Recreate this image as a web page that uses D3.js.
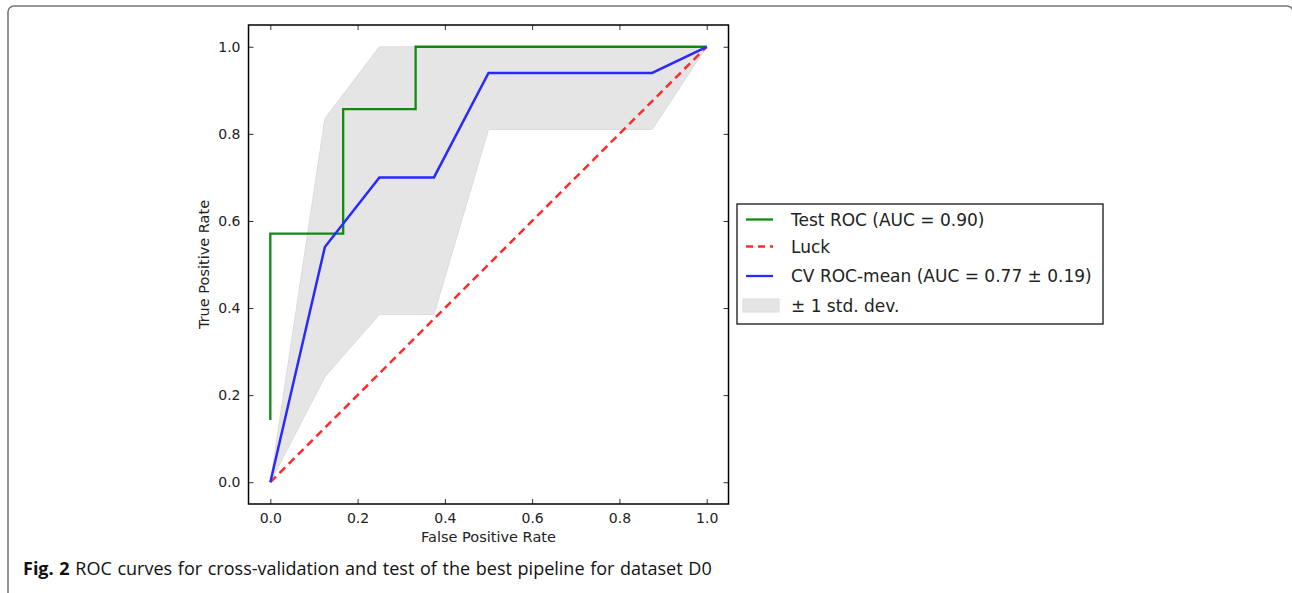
<!DOCTYPE html>
<html>
<head>
<meta charset="utf-8">
<script src="https://cdn.jsdelivr.net/npm/d3@7"></script>
<style>
  body { margin: 0; background: #fff; }
  svg { display: block; }
</style>
</head>
<body>
<svg width="1292" height="593"></svg>
<script>
'use strict';

// values
const testFpr  = [0, 0, 0.167, 0.167, 0.333, 0.333, 1.0];
const testTpr  = [0.143, 0.571, 0.571, 0.857, 0.857, 1.0, 1.0];
const luckFpr  = [0, 1];
const luckTpr  = [0, 1];
const meanFpr  = [0, 0.125, 0.25, 0.375, 0.5, 0.875, 1.0];
const meanTpr  = [0, 0.54, 0.70, 0.70, 0.94, 0.94, 1.0];
const tprUpper = [0, 0.835, 1.0, 1.0, 1.0, 1.0, 1.0];
const tprLower = [0, 0.242, 0.385, 0.385, 0.81, 0.81, 1.0];
const tickValues = [0, 0.2, 0.4, 0.6, 0.8, 1.0];
const legendLabels = ["Test ROC (AUC = 0.90)", "Luck", "CV ROC-mean (AUC = 0.77 \u00b1 0.19)", "\u00b1 1 std. dev."];
const xLabel = "False Positive Rate";
const yLabel = "True Positive Rate";
const captionBold = "Fig. 2";
const captionText = " ROC curves for cross-validation and test of the best pipeline for dataset D0";

const svg = d3.select("svg");
const margin = {left: 248.5, top: 25, right: 563.5, bottom: 89};
const width = 1292 - margin.left - margin.right;   // ~480
const height = 593 - margin.top - margin.bottom;   // ~479
const font = "'DejaVu Sans', sans-serif";

// outer panel border (only top + left are inside the picture)
svg.append("rect")
    .attr("x", 8).attr("y", 6)
    .attr("width", 1285).attr("height", 620)
    .attr("rx", 6)
    .attr("fill", "none")
    .attr("stroke", "#777")
    .attr("stroke-width", 1.6);

const x = d3.scaleLinear().domain([-0.05, 1.05]).range([0, width]);
const y = d3.scaleLinear().domain([-0.05, 1.05]).range([height, 0]);

const g = svg.append("g")
    .attr("transform", "translate(" + margin.left + "," + margin.top + ")");

const zip = (xs, ys) => xs.map((v, i) => [v, ys[i]]);

// std band
const area = d3.area()
    .x(d => x(d.fpr))
    .y0(d => y(d.lo))
    .y1(d => y(d.hi));
g.append("path")
    .datum(meanFpr.map((v, i) => ({fpr: v, lo: tprLower[i], hi: tprUpper[i]})))
    .attr("fill", "#e5e5e5")
    .attr("stroke", "#dcdcdc")
    .attr("stroke-width", 1)
    .attr("d", area);

const line = d3.line().x(d => x(d[0])).y(d => y(d[1]));

g.append("path")
    .datum(zip(testFpr, testTpr))
    .attr("fill", "none")
    .attr("stroke", "#118a11")
    .attr("stroke-width", 2.3)
    .attr("d", line);

g.append("path")
    .datum(zip(luckFpr, luckTpr))
    .attr("fill", "none")
    .attr("stroke", "#ff2a2a")
    .attr("stroke-width", 2.5)
    .attr("stroke-dasharray", "8,5")
    .attr("d", line);

g.append("path")
    .datum(zip(meanFpr, meanTpr))
    .attr("fill", "none")
    .attr("stroke", "#2a2aff")
    .attr("stroke-width", 2.5)
    .attr("d", line);

// axes - ticks point inward on all four sides
const fmt = d3.format(".1f");
function styleAxis(sel) {
  sel.select(".domain").remove();
  sel.selectAll(".tick line").attr("stroke", "#333").attr("stroke-width", 1);
  sel.selectAll(".tick text")
      .attr("font-family", font)
      .attr("font-size", 14)
      .attr("fill", "#222");
}

g.append("g")
    .attr("transform", "translate(0," + height + ")")
    .call(d3.axisBottom(x).tickValues(tickValues).tickFormat(fmt).tickSizeInner(-5).tickSizeOuter(0).tickPadding(9))
    .call(styleAxis);
g.append("g")
    .call(d3.axisLeft(y).tickValues(tickValues).tickFormat(fmt).tickSizeInner(-5).tickSizeOuter(0).tickPadding(8))
    .call(styleAxis);
g.append("g")
    .call(d3.axisTop(x).tickValues(tickValues).tickFormat("").tickSizeInner(-5).tickSizeOuter(0))
    .call(styleAxis);
g.append("g")
    .attr("transform", "translate(" + width + ",0)")
    .call(d3.axisRight(y).tickValues(tickValues).tickFormat("").tickSizeInner(-5).tickSizeOuter(0))
    .call(styleAxis);

g.append("rect")
    .attr("width", width).attr("height", height)
    .attr("fill", "none")
    .attr("stroke", "#000")
    .attr("stroke-width", 1.5);

g.append("text")
    .attr("x", width / 2).attr("y", height + 38)
    .attr("text-anchor", "middle")
    .attr("font-family", font).attr("font-size", 14.5).attr("fill", "#222")
    .text(xLabel);

g.append("text")
    .attr("transform", "translate(-40," + (height / 2) + ") rotate(-90)")
    .attr("text-anchor", "middle")
    .attr("font-family", font).attr("font-size", 14.5).attr("fill", "#222")
    .text(yLabel);

// legend
const legend = svg.append("g").attr("transform", "translate(737,204)");
legend.append("rect")
    .attr("width", 366).attr("height", 120)
    .attr("fill", "#fff")
    .attr("stroke", "#000")
    .attr("stroke-width", 1.2);

const handles = [
  {stroke: "#118a11", dash: null},
  {stroke: "#ff2a2a", dash: "7,5"},
  {stroke: "#2a2aff", dash: null},
  {fill: "#e5e5e5"}
];
const rowY = [15.5, 42.5, 72, 101.5];

legendLabels.forEach(function(label, i) {
  const h = handles[i];
  if (h.fill) {
    legend.append("rect")
        .attr("x", 6).attr("y", rowY[i] - 6.5)
        .attr("width", 36).attr("height", 13)
        .attr("fill", h.fill)
        .attr("stroke", "#dcdcdc");
  } else {
    legend.append("line")
        .attr("x1", 9).attr("x2", 36)
        .attr("y1", rowY[i]).attr("y2", rowY[i])
        .attr("stroke", h.stroke)
        .attr("stroke-width", 2.3)
        .attr("stroke-dasharray", h.dash);
  }
  legend.append("text")
      .attr("x", 54).attr("y", rowY[i])
      .attr("dy", "0.36em")
      .attr("font-family", font).attr("font-size", 17).attr("fill", "#222")
      .text(label);
});

// caption
const cap = svg.append("text")
    .attr("x", 23).attr("y", 575)
    .attr("font-family", "'Open Sans', 'Noto Sans', sans-serif")
    .attr("font-size", 18)
    .attr("word-spacing", 1)
    .attr("fill", "#111");
cap.append("tspan").attr("font-weight", "bold").text(captionBold);
cap.append("tspan").text(captionText);
</script>
</body>
</html>
